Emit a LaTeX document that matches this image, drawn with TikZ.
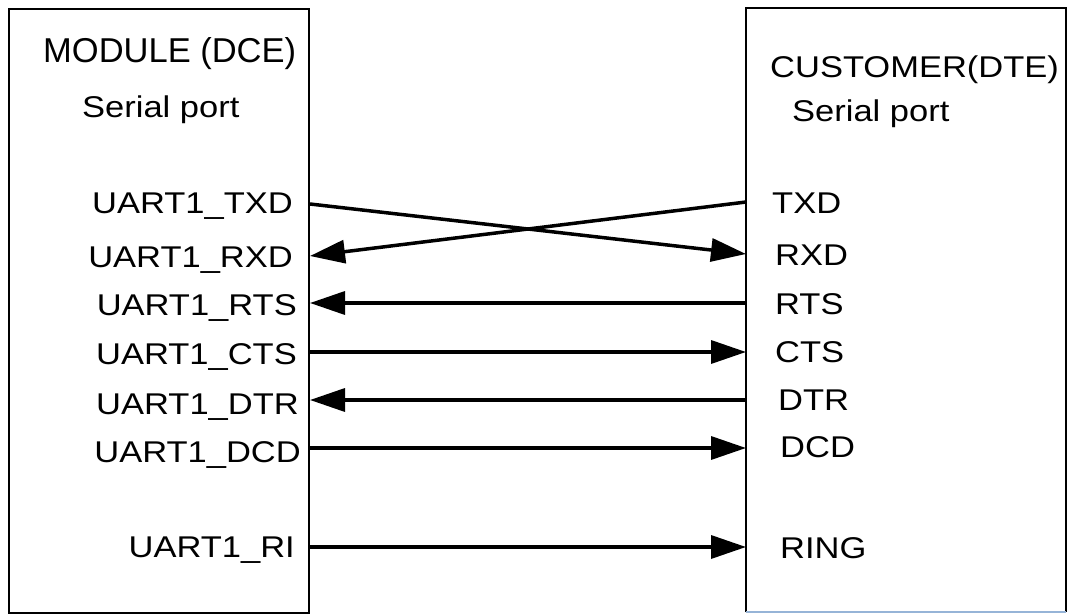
\documentclass[tikz,border=0pt]{standalone}
\usepackage{fontspec}
\setmainfont{Liberation Sans}[FakeStretch=1.15]
\newfontfamily\plainsans{Liberation Sans}
\usetikzlibrary{arrows.meta}
\definecolor{edgeblue}{RGB}{150,180,215}
\begin{document}
\begin{tikzpicture}[x=1pt,y=-1pt,
  boxline/.style={line width=2pt},
  lbl/.style={inner sep=0pt, font=\fontsize{30}{36}\selectfont},
  bigtitle/.style={inner sep=0pt, font=\plainsans\fontsize{34.5}{40}\selectfont},
  wire/.style={line width=3.5pt, -{Triangle[length=35pt,width=23pt]}}]
\useasboundingbox (0,0) rectangle (1069,615);
% boxes
\node[draw, boxline, minimum width=300pt, minimum height=604pt, anchor=north west, inner sep=0pt] (dce) at (8,8) {};
\node[minimum width=320pt, minimum height=604pt, anchor=north west, inner sep=0pt] (dte) at (746,8) {};
\draw[boxline] (dte.south west) -- (dte.north west) -- (dte.north east) -- (dte.south east);
\draw[boxline, edgeblue] (dte.south west) -- (dte.south east);
% titles
\node[bigtitle, anchor=base west] (t1) at (43,63) {MODULE (DCE)};
\node[lbl, anchor=base west] (t2) at (82,118) {Serial port};
\node[lbl, anchor=base west] (t3) at (770,78) {CUSTOMER(DTE)};
\node[lbl, anchor=base west] (t4) at (792,122) {Serial port};
% left labels
\node[lbl, anchor=base east] (lTXD) at (293,214) {UART1\_TXD};
\node[lbl, anchor=base east] (lRXD) at (293,267) {UART1\_RXD};
\node[lbl, anchor=base east] (lRTS) at (297,315) {UART1\_RTS};
\node[lbl, anchor=base east] (lCTS) at (297,364) {UART1\_CTS};
\node[lbl, anchor=base east] (lDTR) at (299,414) {UART1\_DTR};
\node[lbl, anchor=base east] (lDCD) at (301,462) {UART1\_DCD};
\node[lbl, anchor=base east] (lRI) at (295,557) {UART1\_RI};
% right labels
\node[lbl, anchor=base west] (rTXD) at (772,213) {TXD};
\node[lbl, anchor=base west] (rRXD) at (775,265) {RXD};
\node[lbl, anchor=base west] (rRTS) at (775,314) {RTS};
\node[lbl, anchor=base west] (rCTS) at (775,362) {CTS};
\node[lbl, anchor=base west] (rDTR) at (778,410) {DTR};
\node[lbl, anchor=base west] (rDCD) at (780,457) {DCD};
\node[lbl, anchor=base west] (rRING) at (780,558) {RING};
% pins
\coordinate (pl1) at (dce.east |- 0,204);
\coordinate (pl2) at (dce.east |- 0,256);
\coordinate (pl3) at (dce.east |- 0,303);
\coordinate (pl4) at (dce.east |- 0,352);
\coordinate (pl5) at (dce.east |- 0,400);
\coordinate (pl6) at (dce.east |- 0,448);
\coordinate (pl7) at (dce.east |- 0,547);
\coordinate (pr1) at (dte.west |- 0,202);
\coordinate (pr2) at (dte.west |- 0,254);
\coordinate (pr3) at (dte.west |- 0,303);
\coordinate (pr4) at (dte.west |- 0,352);
\coordinate (pr5) at (dte.west |- 0,400);
\coordinate (pr6) at (dte.west |- 0,448);
\coordinate (pr7) at (dte.west |- 0,547);
% wires
\draw[wire] (pl1) -- (pr2);
\draw[wire] (pr1) -- (pl2);
\draw[wire] (pr3) -- (pl3);
\draw[wire] (pl4) -- (pr4);
\draw[wire] (pr5) -- (pl5);
\draw[wire] (pl6) -- (pr6);
\draw[wire] (pl7) -- (pr7);
\end{tikzpicture}
\end{document}
